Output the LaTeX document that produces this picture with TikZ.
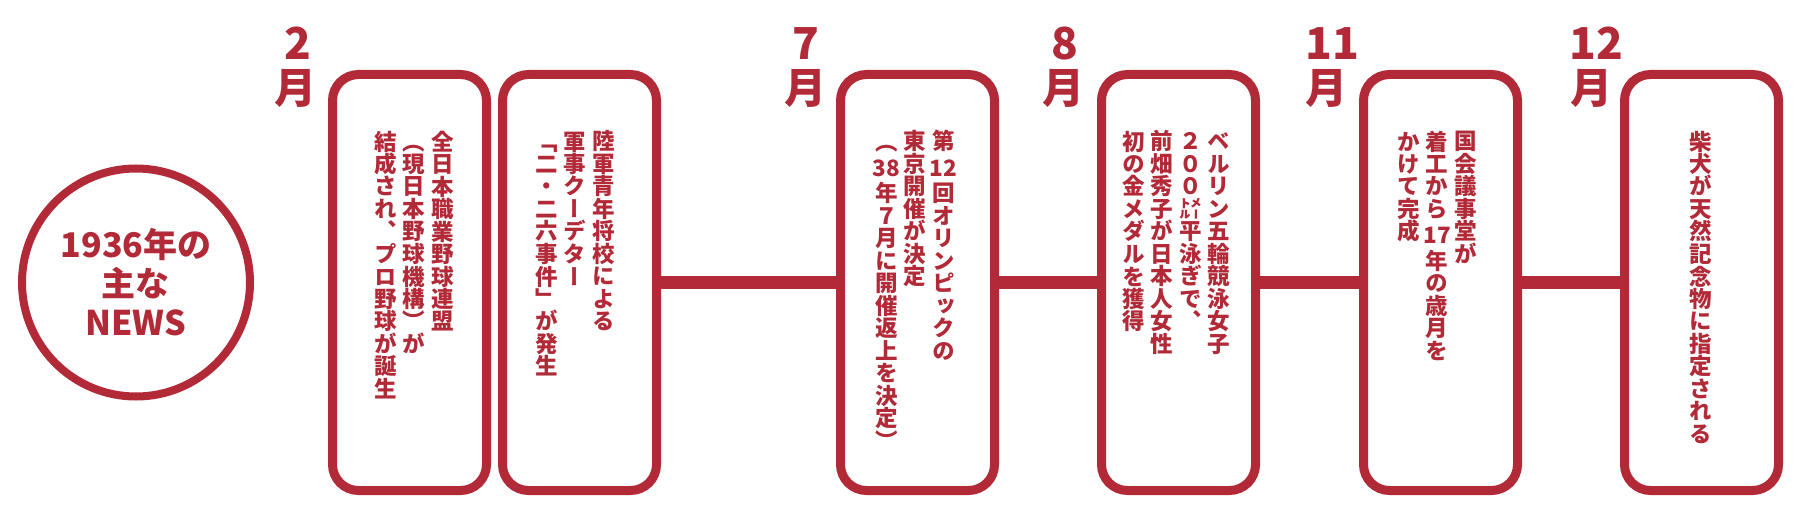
\documentclass[tikz,border=0pt]{standalone}
\usepackage{fontspec}
\newfontfamily\jp{Noto Sans CJK JP}
\newfontfamily\jpv{Noto Sans CJK JP}[RawFeature=+vert]
\definecolor{jred}{RGB}{178,42,56}
\newif\iftcy
\def\tcy#1{\global\tcytrue#1}
\let\vcolend\relax
\def\vcolendmac{\vcolend}
\def\vcolchar#1{\global\tcyfalse\setbox0=\hbox to 1em{\hss#1\hss}\iftcy\ht0=1.05em \dp0=0.25em \else\ht0=0.88em \dp0=0.12em \fi\box0 }
\def\vcolloop#1{\def\vcoltmp{#1}\ifx\vcoltmp\vcolendmac\else\vcolchar{#1}\expandafter\vcolloop\fi}
\newcommand\vcol[1]{\vtop{\offinterlineskip\vcolloop#1\vcolend}}
\newcommand\cg{\hskip6pt}
\tikzset{
  evbox/.style={draw=jred, line width=9pt, rounded corners=26pt, minimum width=154pt, minimum height=416pt, inner sep=0pt},
  conn/.style={draw=jred, line width=13pt},
  vtext/.style={font=\jpv\bfseries\fontsize{22.5}{22.5}\selectfont, text=jred, inner sep=0pt, anchor=north},
  mnum/.style={font=\jp\bfseries\fontsize{44}{44}\selectfont, text=jred, inner sep=0pt, anchor=base},
  mtsuki/.style={font=\jp\bfseries\fontsize{42}{42}\selectfont, text=jred, inner sep=0pt, anchor=base},
}
\begin{document}
\begin{tikzpicture}[x=1pt, y=-1pt]
\useasboundingbox[fill=white] (0,0) rectangle (1800,532);
% circle
\node[circle, draw=jred, line width=8pt, minimum size=228pt, inner sep=0pt, text=jred, align=center,
      font=\jp\bfseries\fontsize{34}{39}\selectfont] (c) at (136,282.5) {1936年の\\主な\\NEWS};
% boxes
\node[evbox] (b1) at (409.5,282.5) {};
\node[evbox] (b2) at (579.5,282.5) {};
\node[evbox] (b3) at (917.5,282.5) {};
\node[evbox] (b4) at (1178.5,282.5) {};
\node[evbox] (b5) at (1440.5,282.5) {};
\node[evbox] (b6) at (1701.5,282.5) {};
% connectors
\draw[conn] (b2.east) -- (b3.west);
\draw[conn] (b3.east) -- (b4.west);
\draw[conn] (b4.east) -- (b5.west);
\draw[conn] (b5.east) -- (b6.west);
% month labels
\node[mnum] (m2n) at (298,60) {2};
\node[mtsuki] (m2t) at (295,104) {月};
\node[mnum] (m7n) at (806,60) {7};
\node[mtsuki] (m7t) at (805,104) {月};
\node[mnum] (m8n) at (1065,60) {8};
\node[mtsuki] (m8t) at (1063,104) {月};
\node[mnum] (m11n) at (1332,60) {11};
\node[mtsuki] (m11t) at (1326,104) {月};
\node[mnum] (m12n) at (1596,60) {12};
\node[mtsuki] (m12t) at (1591,104) {月};
% texts
\node[vtext] (t1) at (414,130) {\hbox{\vcol{結成され、プロ野球が誕生}\cg\vcol{（現日本野球機構）が}\cg\vcol{全日本職業野球連盟}}};
\node[vtext] (t2) at (575,130) {\hbox{\vcol{「二・二六事件」が発生}\cg\vcol{軍事クーデター}\cg\vcol{陸軍青年将校による}}};
\node[vtext] (t3) at (915,130) {\hbox{\vcol{（{\tcy{38}}年７月に開催返上を決定）}\cg\vcol{東京開催が決定}\cg\vcol{第{\tcy{12}}回オリンピックの}}};
\node[vtext] (t4) at (1176,130) {\hbox{\vcol{初の金メダルを獲得}\cg\vcol{前畑秀子が日本人女性}\cg\vcol{２００㍍平泳ぎで、}\cg\vcol{ベルリン五輪競泳女子}}};
\node[vtext] (t5) at (1437,130) {\hbox{\vcol{かけて完成}\cg\vcol{着工から{\tcy{17}}年の歳月を}\cg\vcol{国会議事堂が}}};
\node[vtext] (t6) at (1701,130) {\hbox{\vcol{柴犬が天然記念物に指定される}}};
\end{tikzpicture}
\end{document}
